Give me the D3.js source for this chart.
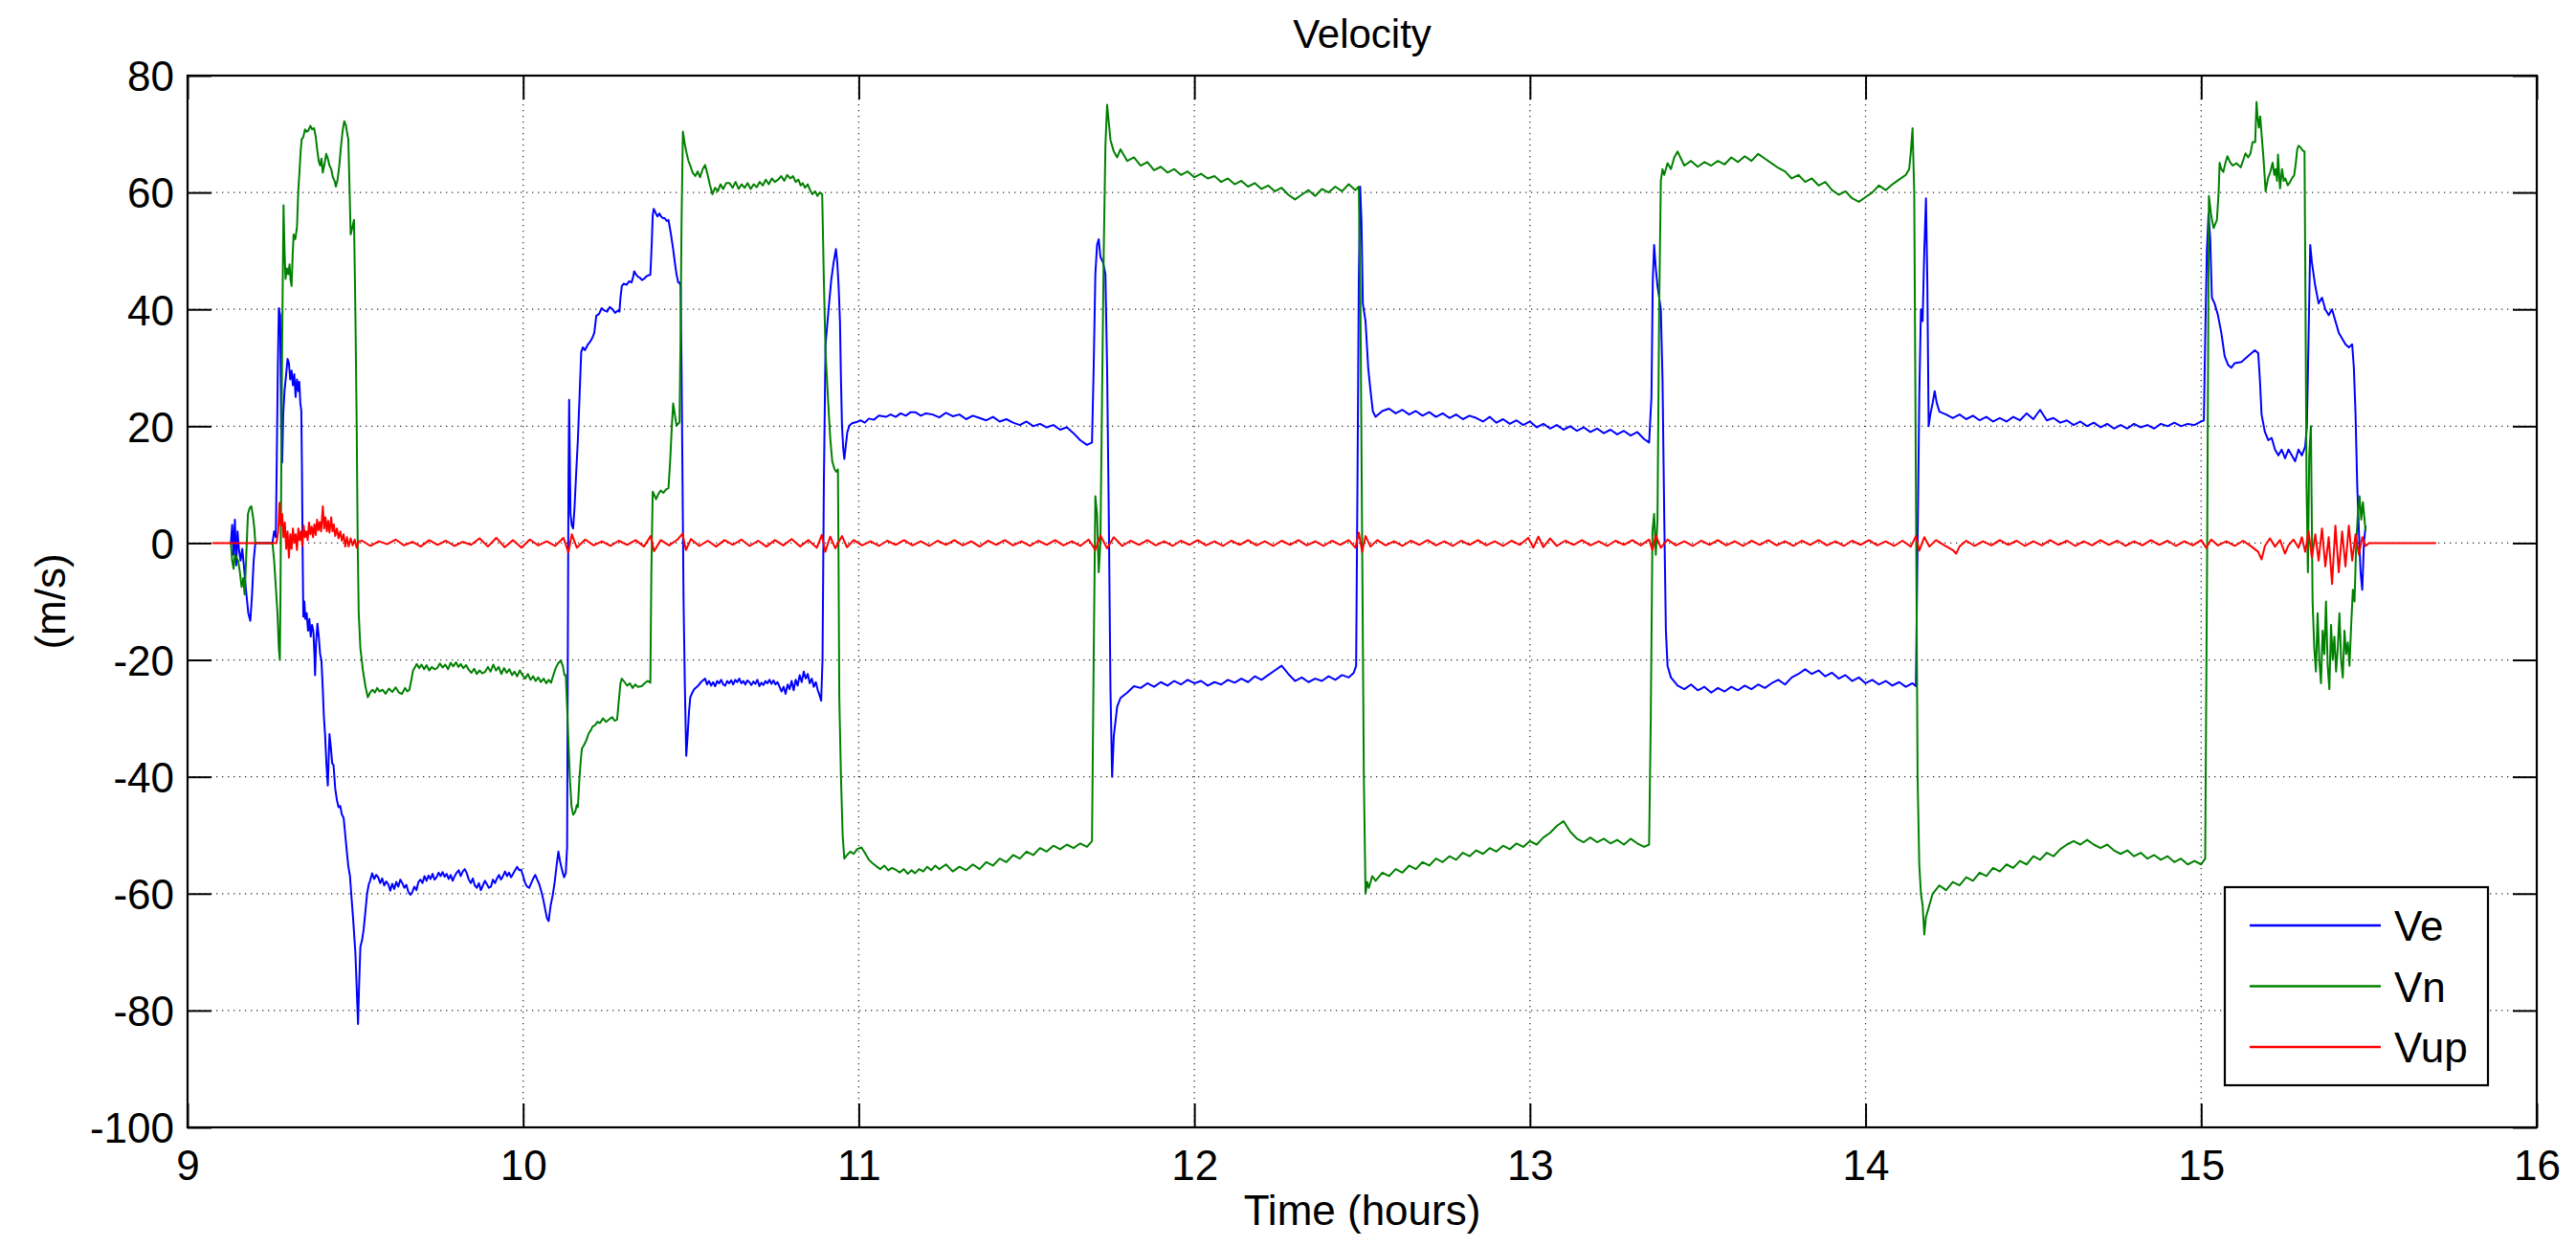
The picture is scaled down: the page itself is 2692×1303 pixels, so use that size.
<!DOCTYPE html>
<html><head><meta charset="utf-8">
<script src="https://cdn.jsdelivr.net/npm/d3@7"></script>
<style>body{margin:0;background:#fff}text{font-family:"Liberation Sans",Arial,Helvetica,sans-serif;fill:#000}</style>
</head><body><svg id="c" width="2692" height="1303"></svg>
<script>
const titleText = "Velocity";
const xLabel = "Time (hours)";
const yLabel = "(m/s)";
const xTicks = [9,10,11,12,13,14,15,16];
const yTicks = [-100,-80,-60,-40,-20,0,20,40,60,80];
const seriesNames = ["Ve","Vn","Vup"];
const seriesColors = ["#0000ff","#008000","#ff0000"];

const veData = [[9.129,0],[9.133,3.1],[9.137,-2],[9.141,4],[9.145,-3.8],[9.149,2],[9.153,-1],[9.158,-3],[9.163,-1],[9.168,-4],[9.174,-8],[9.181,-12],[9.187,-13.3],[9.192,-9],[9.197,-3],[9.202,0],
[9.253,0],[9.258,2],[9.263,1],[9.266,15],[9.269,30],[9.272,40.2],[9.276,39],[9.279,20],[9.282,13.8],[9.285,22],[9.289,26],[9.294,29],[9.298,31.5],[9.302,30.8],[9.306,28],[9.310,29.5],[9.314,27],[9.318,28.9],[9.322,25],[9.326,28],[9.330,26],[9.333,27.6],[9.336,24],[9.339,22.6],[9.341,12],[9.343,-2],[9.345,-12.6],[9.348,-10],[9.351,-13],[9.355,-12],[9.359,-15],[9.363,-13],[9.367,-16],[9.371,-14],[9.375,-15.1],[9.378,-19],[9.380,-22.6],[9.383,-17],[9.387,-13.8],[9.391,-16],[9.395,-19],[9.399,-20.1],[9.403,-25],[9.406,-29.5],[9.410,-33],[9.414,-38],[9.418,-41.5],[9.421,-36],[9.423,-32.7],[9.427,-35],[9.431,-37.7],[9.435,-38],[9.440,-42],[9.445,-44],[9.450,-45.2],[9.455,-45],[9.460,-46.5],[9.465,-47],[9.470,-50],[9.475,-53],[9.479,-55.3],[9.484,-57],[9.489,-61],[9.493,-64],[9.496,-66.6],[9.500,-70],[9.504,-76],[9.508,-82.3],[9.511,-76],[9.515,-69.1],[9.520,-68],[9.525,-66],[9.530,-63],[9.535,-60],[9.540,-58.4],[9.544,-57.8],[9.550,-56.5],[9.556,-57.5],[9.562,-56.8],[9.568,-57.2],[9.574,-58.2],[9.580,-57.4],[9.586,-58.6],[9.592,-57.9],[9.598,-58.4],[9.604,-59.5],[9.610,-58.3],[9.616,-59.2],[9.622,-58],[9.628,-58.8],[9.634,-57.6],[9.640,-58.2],[9.646,-59],[9.652,-58.5],[9.658,-59.7],[9.664,-60.2],[9.670,-59.7],[9.676,-58.8],[9.682,-59.4],[9.688,-58],[9.694,-57.6],[9.700,-58.2],[9.706,-57],[9.712,-57.8],[9.718,-56.9],[9.724,-57.5],[9.730,-56.6],[9.736,-57.6],[9.742,-57.2],[9.748,-56.4],[9.754,-57],[9.760,-56.3],[9.766,-57.1],[9.772,-56.6],[9.778,-57.5],[9.784,-56.8],[9.790,-57.8],[9.796,-57],[9.802,-56.4],[9.808,-56],[9.814,-57],[9.820,-56.2],[9.826,-55.8],[9.832,-56.5],[9.838,-57.6],[9.844,-58.2],[9.850,-57.4],[9.856,-58.6],[9.862,-59],[9.868,-58.2],[9.874,-59.4],[9.880,-58.6],[9.886,-57.8],[9.892,-58.4],[9.898,-59],[9.904,-58.8],[9.910,-57.6],[9.916,-58.2],[9.922,-57.4],[9.928,-56.8],[9.934,-57.6],[9.940,-57],[9.946,-56.2],[9.952,-57],[9.958,-56.4],[9.964,-57.2],[9.970,-56.6],[9.976,-56],[9.982,-55.4],[9.988,-56],[9.994,-55.9],[10.000,-57],[10.006,-58.2],[10.012,-58.8],[10.018,-59],[10.024,-58.2],[10.030,-57.4],[10.036,-56.8],[10.042,-57.6],[10.048,-58.4],[10.054,-59.6],[10.060,-61],[10.066,-62.8],[10.071,-64.2],[10.076,-64.7],[10.082,-62],[10.088,-60.3],[10.094,-58],[10.100,-55],[10.105,-52.8],[10.110,-54.5],[10.116,-56],[10.122,-57.2],[10.127,-56.5],[10.131,-52],[10.133,-20],[10.135,10],[10.137,24.5],[10.139,15],[10.141,5],[10.145,3],[10.149,2.5],[10.153,6],[10.158,12],[10.163,17.6],[10.168,25],[10.173,32.7],[10.178,33.5],[10.184,33],[10.192,33.9],[10.200,34.5],[10.207,35.2],[10.212,36],[10.218,38.9],[10.226,39.2],[10.234,40.2],[10.242,39.8],[10.250,39.6],[10.258,40.4],[10.266,40],[10.274,39.4],[10.282,39.8],[10.287,39.6],[10.290,42],[10.294,44],[10.300,44.4],[10.308,44.2],[10.316,44.8],[10.323,44.6],[10.328,45.6],[10.331,46.5],[10.336,46],[10.342,45.6],[10.348,45.4],[10.354,45],[10.360,45.2],[10.366,45.6],[10.372,45.8],[10.379,45.9],[10.383,51],[10.386,56],[10.389,57.2],[10.394,56.6],[10.400,55.9],[10.406,56.4],[10.411,55.9],[10.417,55.6],[10.422,55.6],[10.428,55.1],[10.433,55.3],[10.440,53],[10.447,50.3],[10.452,48],[10.457,46],[10.462,44.6],[10.466,44.6],[10.469,44],[10.472,30],[10.475,10],[10.478,-10],[10.482,-25],[10.486,-36.4],[10.490,-33],[10.494,-29],[10.498,-26.4],[10.504,-25.6],[10.510,-25],[10.520,-24.5],[10.530,-23.8],[10.542,-23.2],
[10.548,-24.2],[10.554,-23.6],[10.560,-24.4],[10.566,-23.8],[10.572,-24.5],[10.578,-23.6],[10.584,-24],[10.590,-23.4],[10.596,-24.2],[10.602,-24.4],[10.608,-23.6],[10.614,-24],[10.620,-23.5],[10.626,-24.2],[10.632,-23.4],[10.638,-23.8],[10.644,-23.2],[10.650,-24],[10.656,-23.6],[10.662,-24.2],[10.668,-23.5],[10.674,-23.8],[10.680,-24.3],[10.686,-23.7],[10.692,-24.1],[10.698,-23.4],[10.704,-24.5],[10.710,-23.9],[10.716,-24.3],[10.722,-23.6],[10.728,-24],[10.734,-23.4],[10.740,-24.1],[10.746,-23.5],[10.752,-24.2],[10.758,-23.8],[10.764,-24.6],[10.770,-25.4],[10.776,-24.6],[10.782,-25.8],[10.788,-24.2],[10.794,-25],[10.800,-23.6],[10.806,-25.2],[10.812,-23.4],[10.818,-24.4],[10.824,-22.6],[10.830,-23.8],[10.836,-22],[10.842,-23.2],[10.848,-22.4],[10.854,-24],[10.860,-23.2],[10.866,-24.6],[10.872,-23.8],[10.878,-25.2],[10.883,-26],[10.888,-27],[10.892,-20],[10.896,10],[10.901,33.9],[10.910,40],[10.918,45],[10.925,48],[10.932,50.3],[10.936,48],[10.940,44],[10.944,38],[10.947,28],[10.950,20.1],[10.954,16],[10.957,14.4],[10.962,17],[10.966,19],[10.972,20.1],[10.980,20.5],[10.993,20.7],[11.005,21],[11.018,20.6],[11.030,21.3],[11.045,21.1],[11.060,21.8],[11.081,21.6],[11.095,22],[11.110,21.6],[11.125,22.2],[11.140,21.8],[11.155,22.4],[11.168,22.4],[11.185,21.8],[11.200,22.2],
[11.22,22],[11.24,21.5],[11.26,22.3],[11.28,21.7],[11.30,22],[11.32,21.2],[11.34,21.8],[11.36,21.4],[11.38,21],[11.40,21.6],[11.42,20.8],[11.44,21.2],[11.46,20.6],[11.48,20.2],[11.50,20.8],[11.52,20],[11.54,20.4],[11.56,19.8],[11.58,20.2],[11.60,19.4],[11.62,19.8],[11.64,18.8],[11.66,17.6],[11.68,16.8],[11.695,17.2],[11.70,30],[11.705,46],[11.71,51],[11.715,52],[11.72,49],[11.728,48],[11.735,46],[11.74,30],[11.745,5],[11.75,-25],[11.755,-40],[11.76,-33],[11.77,-28],[11.78,-26.5],[11.80,-25.6],[11.82,-24.5],
[11.84,-24.8],[11.86,-24],[11.88,-24.6],[11.90,-23.8],[11.92,-24.4],[11.94,-23.6],[11.96,-24.2],[11.98,-23.4],[12.00,-24],[12.02,-23.6],[12.04,-24.4],[12.06,-23.8],[12.08,-24.2],[12.10,-23.4],[12.12,-23.9],[12.14,-23.2],[12.16,-23.8],[12.18,-22.8],[12.20,-23.4],[12.22,-22.6],[12.24,-21.8],[12.26,-21],[12.28,-22.4],[12.30,-23.6],[12.32,-23],[12.34,-23.8],[12.36,-23.2],[12.38,-23.6],[12.40,-22.8],[12.42,-23.4],[12.44,-22.6],[12.46,-23],[12.475,-22.2],[12.482,-21],[12.486,10],[12.49,45],[12.494,61],[12.498,55],[12.502,41],[12.51,38],[12.518,30],[12.525,26],[12.532,22.5],[12.54,21.6],[12.56,22.6],[12.58,23],[12.60,22.2],
[12.62,22.8],[12.64,22],[12.66,22.6],[12.68,21.8],[12.70,22.4],[12.72,21.6],[12.74,22.2],[12.76,21.4],[12.78,22],[12.80,21.2],[12.82,21.8],[12.84,21.4],[12.86,20.8],[12.88,21.6],[12.90,20.6],[12.92,21.2],[12.94,20.4],[12.96,21],[12.98,20.2],[13.00,20.8],[13.02,19.8],[13.04,20.4],[13.06,19.6],[13.08,20.2],[13.10,19.4],[13.12,20],[13.14,19.2],[13.16,19.8],[13.18,19],[13.20,19.6],[13.22,18.8],[13.24,19.4],[13.26,18.6],[13.28,19.2],[13.30,18.4],[13.32,19],[13.34,17.8],[13.355,17.2],[13.362,25],[13.366,45],[13.37,51],[13.375,47],[13.38,44],[13.39,40],[13.395,28],[13.40,5],[13.405,-15],[13.41,-21],[13.42,-23],[13.44,-24.4],
[13.46,-25],[13.48,-24.2],[13.50,-25.2],[13.52,-24.6],[13.54,-25.6],[13.56,-24.8],[13.58,-25.4],[13.60,-24.6],[13.62,-25.2],[13.64,-24.4],[13.66,-25],[13.68,-24.2],[13.70,-24.8],[13.72,-24],[13.74,-23.4],[13.76,-24.2],[13.78,-23],[13.80,-22.4],[13.82,-21.6],[13.84,-22.4],[13.86,-21.8],[13.88,-22.8],[13.90,-22.2],[13.92,-23.2],[13.94,-22.6],[13.96,-23.6],[13.98,-23],[14.00,-24],[14.02,-23.4],[14.04,-24.2],[14.06,-23.6],[14.08,-24.4],[14.10,-23.8],[14.12,-24.6],[14.14,-24],[14.15,-24.5],[14.155,0],[14.16,25],[14.165,40],[14.17,38],[14.175,50],[14.18,59],[14.184,45],[14.188,20],[14.193,22],[14.2,24],[14.206,26],[14.212,24],[14.22,22.5],[14.24,22],
[14.26,21.4],[14.28,22],[14.30,21.2],[14.32,21.8],[14.34,21],[14.36,21.6],[14.38,20.8],[14.40,21.4],[14.42,20.8],[14.44,21.6],[14.46,21],[14.48,22.2],[14.50,21.2],[14.52,22.8],[14.54,21],[14.56,21.4],[14.58,20.6],[14.60,21],[14.62,20.2],[14.64,20.8],[14.66,20],[14.68,20.6],[14.70,19.8],[14.72,20.4],[14.74,19.6],[14.76,20.2],[14.78,19.6],[14.80,20.4],[14.82,19.8],[14.84,20.2],[14.86,19.6],[14.88,20.4],[14.90,20],[14.92,20.6],[14.94,20],[14.96,20.4],[14.98,20.2],[15.00,20.8],[15.008,21],[15.012,35],[15.017,50],[15.022,56.4],[15.027,52],[15.032,42],[15.04,41],[15.05,39],[15.06,36],[15.07,32],[15.08,30.5],[15.09,30],[15.10,30.8],[15.12,31],[15.14,32],[15.16,33],[15.17,32.5],[15.175,28],[15.18,22],[15.19,19],[15.20,17.6],[15.21,18],[15.22,16],[15.23,15],[15.24,16],[15.25,14.5],[15.26,16],[15.27,15],[15.28,14],[15.29,16],[15.30,15],[15.31,16.5],[15.315,20],[15.32,35],[15.325,51],[15.33,48],[15.34,44],[15.35,41],[15.36,42],[15.37,40],[15.38,39],[15.39,40],[15.40,38],[15.41,36],[15.42,35],[15.43,34],[15.44,33.5],[15.45,34],[15.455,30],[15.46,22],[15.465,10],[15.47,2],[15.475,-5],[15.48,-8],[15.485,0],[15.49,3]];

const vnData = [[9.129,0],[9.133,-3],[9.137,-4.4],[9.141,-2],[9.146,-2.5],[9.151,-3.1],[9.156,-5],[9.161,-7.5],[9.166,-6],[9.170,-8.8],[9.173,-5],[9.176,-0.6],[9.180,5],[9.185,6],[9.190,6.3],[9.195,4.5],[9.199,2.5],[9.202,0],
[9.253,0],[9.258,-3],[9.263,-7.5],[9.268,-12],[9.272,-18],[9.275,-20],[9.277,-8],[9.279,10],[9.282,35],[9.286,57.8],[9.289,50],[9.292,45.2],[9.296,47],[9.300,46],[9.304,47.7],[9.307,45],[9.310,44],[9.313,49],[9.316,52.8],[9.321,52],[9.326,54],[9.330,60.3],[9.334,64],[9.337,67],[9.340,69.1],[9.345,69.5],[9.350,70.8],[9.355,70.4],[9.360,70.6],[9.366,71.4],[9.371,70.8],[9.377,71],[9.382,69.5],[9.386,67.5],[9.391,65.3],[9.395,64.6],[9.399,65.8],[9.403,63.4],[9.408,64.8],[9.413,66.6],[9.418,65.8],[9.423,64.6],[9.428,64],[9.433,62.6],[9.438,62],[9.442,61],[9.447,62.2],[9.452,64.5],[9.457,67.8],[9.462,70.5],[9.467,72.2],[9.472,71.5],[9.476,70],[9.479,69.1],[9.483,60],[9.486,52.8],[9.491,54],[9.496,55.3],[9.500,40],[9.504,20.1],[9.507,0],[9.510,-12],[9.515,-18],[9.523,-22],[9.530,-24.5],[9.537,-26.4],[9.544,-25.6],[9.551,-25.1],[9.558,-25.6],[9.565,-24.8],[9.572,-25.4],[9.581,-25.1],[9.590,-25.8],[9.600,-24.9],[9.610,-25.5],[9.620,-24.7],[9.630,-25.6],[9.639,-25.8],[9.648,-24.8],[9.655,-25.4],[9.661,-25.1],[9.667,-23.4],[9.672,-21.8],[9.678,-21.2],[9.683,-20.7],[9.690,-21.4],[9.697,-20.8],[9.705,-21.6],[9.712,-20.9],[9.720,-21.8],[9.728,-21.2],[9.736,-21.6],[9.744,-21.4],[9.752,-20.6],[9.760,-21.3],[9.768,-20.8],[9.776,-21.6],[9.784,-20.5],[9.792,-21.1],[9.800,-20.4],[9.807,-21.2],[9.814,-20.7],[9.822,-21.4],[9.830,-20.9],[9.838,-21.7],[9.846,-22.2],[9.854,-21.5],[9.862,-22.4],[9.870,-21.8],[9.878,-22.3],[9.887,-22],[9.895,-21.2],[9.903,-22],[9.911,-20.8],[9.919,-21.8],[9.927,-21.2],[9.935,-22.4],[9.943,-21.4],[9.951,-22.2],[9.959,-21.6],[9.967,-22.6],[9.974,-22],[9.982,-22.8],[9.990,-21.8],[9.998,-22.6],[10.006,-23.2],[10.014,-22.4],[10.022,-23.4],[10.030,-22.8],[10.037,-23.6],[10.045,-23],[10.053,-23.8],[10.061,-23.2],[10.069,-24],[10.076,-23.4],[10.083,-23.9],[10.090,-22.6],[10.097,-21.4],[10.104,-20.6],[10.112,-20.1],[10.118,-21],[10.123,-22.6],[10.127,-22.6],[10.131,-28],[10.134,-32.7],[10.139,-40],[10.144,-45],[10.149,-46.5],[10.155,-46],[10.160,-44.8],[10.163,-45.2],[10.168,-40],[10.172,-37],[10.175,-35.2],[10.181,-34.6],[10.188,-33.8],[10.195,-32.6],[10.202,-32],[10.207,-31.4],[10.214,-31.2],[10.221,-30.6],[10.229,-30.8],[10.238,-30],[10.247,-30.6],[10.256,-30.2],[10.265,-29.8],[10.273,-30.4],[10.280,-30.2],[10.285,-27],[10.290,-24],[10.294,-23.2],[10.302,-23.8],[10.310,-24.4],[10.318,-24],[10.326,-24.8],[10.334,-24.2],[10.342,-24.6],[10.353,-24.5],[10.362,-24],[10.371,-23.6],[10.379,-23.9],[10.382,-5],[10.386,8.8],[10.391,8.2],[10.396,7.5],[10.403,8.4],[10.410,9],[10.418,8.6],[10.426,9.2],[10.433,9.4],[10.438,14],[10.443,20],[10.447,23.9],[10.452,22],[10.457,20.1],[10.462,20.4],[10.466,20.7],[10.469,35],[10.472,55],[10.476,70.4],[10.481,68.5],[10.486,67],[10.492,65.5],[10.498,64.6],[10.505,63.4],[10.513,62.8],[10.520,63.6],[10.527,62.6],[10.535,64],[10.542,64.7],[10.549,63.2],[10.556,61.4],[10.564,59.7],[10.572,60.8],[10.580,60.2],[10.588,61.4],[10.596,60.6],[10.605,61.6],[10.615,61.6],[10.624,60.8],[10.633,61.8],[10.642,60.6],[10.651,61.4],[10.660,60.8],[10.669,61.6],[10.678,60.6],[10.687,61.4],[10.696,60.9],[10.705,61.8],[10.714,61.2],[10.723,62.2],[10.732,61.4],[10.741,62.4],[10.750,61.8],[10.760,62.2],[10.769,62.8],[10.778,62],[10.787,63],[10.796,62.4],[10.804,62.8],[10.812,61.8],[10.820,62.2],[10.827,61.2],[10.833,61.6],[10.840,60.8],[10.848,61.4],[10.855,60.4],[10.862,59.7],[10.870,60.2],[10.877,59.4],[10.884,60],[10.891,59.7],[10.896,45],[10.901,32.7],[10.908,25],[10.915,18],[10.921,14],[10.928,12.6],[10.933,12.2],[10.938,12.6],[10.940,-5],[10.942,-26.4],[10.947,-40],[10.952,-50],[10.957,-54],[10.965,-53.4],[10.975,-52.8],[10.985,-53.2],[10.995,-52.4],[11.008,-52.1],[11.018,-53],[11.030,-54.2],[11.041,-54.8],[11.052,-55.3],[11.064,-55.8],[11.076,-55.2],[11.088,-56],[11.099,-55.6],[11.110,-55.9],[11.122,-56.4],[11.134,-55.8],[11.146,-56.6],[11.157,-56],[11.168,-56.5],[11.180,-55.8],[11.192,-56.2],[11.204,-55.4],[11.216,-56],[11.228,-55.2],[11.240,-55.8],
[11.26,-55],[11.28,-56.2],[11.30,-55.4],[11.32,-56],[11.34,-55],[11.36,-55.8],[11.38,-54.6],[11.40,-55.2],[11.42,-54],[11.44,-54.6],[11.46,-53.4],[11.48,-54],[11.50,-52.8],[11.52,-53.4],[11.54,-52.2],[11.56,-52.8],[11.58,-51.8],[11.60,-52.4],[11.62,-51.6],[11.64,-52.2],[11.66,-51.4],[11.68,-52],[11.695,-51],[11.70,-20],[11.705,8],[11.71,5],[11.715,-5],[11.72,0],[11.725,25],[11.73,50],[11.735,68],[11.74,75],[11.745,72],[11.75,69],[11.76,67],[11.77,66],[11.78,67.4],[11.80,65.4],[11.82,66],[11.84,64.6],[11.86,65.2],[11.88,63.8],[11.90,64.4],[11.92,63.4],[11.94,64],[11.96,63],[11.98,63.6],[12.00,62.6],[12.02,63.2],[12.04,62.4],[12.06,62.8],[12.08,61.8],[12.10,62.4],[12.12,61.4],[12.14,62],[12.16,61],[12.18,61.6],[12.20,60.6],[12.22,61.2],[12.24,60.2],[12.26,60.8],[12.28,59.6],[12.30,58.8],[12.32,59.6],[12.34,60.4],[12.36,59.4],[12.38,60.6],[12.40,60],[12.42,61],[12.44,60.2],[12.46,61.4],[12.48,60.4],[12.49,61],[12.495,40],[12.50,0],[12.505,-40],[12.51,-60],[12.515,-58],[12.52,-59],[12.53,-57],[12.54,-57.8],[12.56,-56.4],[12.58,-57],[12.60,-55.8],[12.62,-56.4],[12.64,-55.2],[12.66,-55.8],[12.68,-54.6],[12.70,-55.2],[12.72,-54],[12.74,-54.6],[12.76,-53.6],[12.78,-54.2],[12.80,-53],[12.82,-53.6],[12.84,-52.6],[12.86,-53.2],[12.88,-52.2],[12.90,-52.8],[12.92,-51.8],[12.94,-52.4],[12.96,-51.4],[12.98,-52],[13.00,-51],[13.02,-51.6],[13.04,-50.4],[13.06,-49.6],[13.08,-48.4],[13.10,-47.6],[13.12,-49.4],[13.14,-50.6],[13.16,-51.2],[13.18,-50.4],[13.20,-51.2],[13.22,-50.6],[13.24,-51.4],[13.26,-50.8],[13.28,-51.6],[13.30,-50.6],[13.32,-51.4],[13.34,-52],[13.355,-51.6],[13.36,-30],[13.365,2],[13.37,5],[13.375,-2],[13.38,4],[13.385,40],[13.39,62],[13.395,64],[13.40,63],[13.41,65],[13.42,64],[13.43,66],[13.44,67],[13.45,65.8],[13.46,64.6],[13.48,65.4],[13.50,64.4],[13.52,65.2],[13.54,64.6],[13.56,65.4],[13.58,64.8],[13.60,66],[13.62,65.2],[13.64,66.2],[13.66,65.4],[13.68,66.6],[13.70,65.8],[13.72,65],[13.74,64.2],[13.76,63.6],[13.78,62.4],[13.80,63],[13.82,61.8],[13.84,62.4],[13.86,61.2],[13.88,61.8],[13.90,60.4],[13.92,59.6],[13.94,60.2],[13.96,59],[13.98,58.4],[14.00,59.2],[14.02,60],[14.04,61.2],[14.06,60.4],[14.08,61.4],[14.10,62.2],[14.12,63],[14.13,64],[14.135,67],[14.14,71],[14.145,60],[14.15,10],[14.155,-40],[14.16,-55],[14.165,-60],[14.17,-62],[14.175,-67],[14.18,-64],[14.19,-62],[14.20,-60],[14.22,-58.6],[14.24,-59.4],[14.26,-58],[14.28,-58.6],[14.30,-57.2],[14.32,-57.8],[14.34,-56.4],[14.36,-57],[14.38,-55.6],[14.40,-56.2],[14.42,-55],[14.44,-55.6],[14.46,-54.4],[14.48,-55],[14.50,-53.6],[14.52,-54.2],[14.54,-53],[14.56,-53.6],[14.58,-52.4],[14.60,-51.6],[14.62,-51],[14.64,-51.6],[14.66,-50.8],[14.68,-51.6],[14.70,-52.2],[14.72,-51.6],[14.74,-52.6],[14.76,-53.2],[14.78,-52.6],[14.80,-53.6],[14.82,-53],[14.84,-54],[14.86,-53.4],[14.88,-54.2],[14.90,-53.6],[14.92,-54.6],[14.94,-54],[14.96,-55],[14.98,-54.4],[15.00,-55],[15.012,-54],[15.018,0],[15.023,59.4],[15.03,56],[15.037,53.9],[15.047,55.3],[15.052,60],[15.055,65.1],[15.06,64],[15.066,63.5],[15.072,65],[15.078,66.2],[15.086,65.2],[15.094,64.6],[15.105,65],[15.118,64.3],[15.125,65.5],[15.132,66.7],[15.14,66],[15.147,66.7],[15.153,68.6],[15.161,68.6],[15.165,75.5],[15.168,73],[15.172,71.1],[15.176,73],[15.180,70],[15.186,65.6],[15.192,60.2],[15.199,62.4],[15.206,63.5],[15.213,65.1],[15.218,63],[15.222,64],[15.226,62],[15.229,66.5],[15.235,60.7],[15.241,64],[15.246,62],[15.251,62.4],[15.258,61.2],[15.265,61.8],[15.271,62.5],[15.277,62.9],[15.282,65],[15.286,67.3],[15.29,68],[15.295,67.8],[15.302,67.2],[15.308,67],[15.311,40],[15.314,10],[15.318,-5],[15.322,15],[15.327,20],[15.332,-10],[15.337,-18],[15.342,-22],[15.347,-12],[15.352,-20],[15.357,-24],[15.362,-15],[15.367,-19],[15.372,-10],[15.377,-21],[15.382,-25],[15.387,-14],[15.392,-20],[15.397,-16],[15.402,-22],[15.407,-18],[15.412,-12],[15.417,-20],[15.422,-23],[15.427,-15],[15.432,-19],[15.437,-17],[15.442,-21],[15.447,-14],[15.452,-8],[15.457,-10],[15.462,0],[15.467,5],[15.472,8],[15.477,4],[15.482,7],[15.49,2]];

const vupData = [[9.074,0],[9.265,0],[9.27,2],[9.274,6.9],[9.278,3],[9.282,5],[9.286,1],[9.29,3.5],[9.294,-1],[9.298,2],[9.302,-2.5],[9.306,1.5],[9.31,-1],[9.314,2.5],[9.318,0],[9.322,1.5],[9.326,-1.2],[9.33,2.5],[9.334,0.5],[9.338,2],[9.342,-0.5],[9.346,3],[9.35,1],[9.354,2],[9.358,0.5],[9.362,3.5],[9.366,1.5],[9.37,2.8],[9.374,1],[9.378,3.2],[9.382,1.4],[9.386,4],[9.39,2.2],[9.394,3.6],[9.398,2],[9.403,6.3],[9.407,2.5],[9.411,4.4],[9.415,2],[9.419,3.8],[9.423,1.8],[9.428,4.4],[9.432,2],[9.436,3.2],[9.44,1.2],[9.445,2.5],[9.45,0.8],[9.455,2],[9.46,0.4],[9.465,1.5],[9.47,-0.6],[9.475,1],[9.48,-0.6],[9.486,0.8],[9.492,-0.4],[9.498,0.6],[9.504,-0.8],[9.51,0.3],
[9.52,0.4],[9.545,-0.5],[9.57,0.3],[9.595,-0.2],[9.62,0.6],[9.645,-0.4],[9.67,0.2],[9.695,-0.6],[9.72,0.5],[9.745,-0.3],[9.77,0.4],[9.795,-0.5],[9.82,0.2],[9.845,-0.3],[9.87,0.8],[9.895,-0.6],[9.92,0.9],[9.945,-0.7],[9.97,0.5],[9.995,-0.8],[10.02,0.6],[10.045,-0.4],[10.07,0.3],[10.095,-0.5],[10.12,0.9],[10.135,-1.6],[10.145,1.5],[10.16,-0.8],[10.185,0.6],[10.21,-0.4],[10.235,0.3],[10.26,-0.5],[10.285,0.4],[10.31,-0.3],[10.335,0.5],[10.36,-0.6],[10.38,1.2],[10.39,-1.4],[10.41,0.5],[10.435,-0.4],[10.46,0.6],[10.475,1.6],[10.485,-1.2],[10.50,0.7],[10.525,-0.5],[10.55,0.4],[10.575,-0.6],[10.60,0.5],[10.625,-0.3],[10.65,0.6],[10.675,-0.5],[10.70,0.4],[10.725,-0.6],[10.75,0.5],[10.775,-0.4],[10.80,0.7],[10.825,-0.6],[10.85,0.5],[10.875,-0.8],[10.89,1.4],[10.90,-1.5],[10.915,1.1],[10.93,-0.9],[10.95,1.2],[10.965,-0.7],[10.985,0.5],[11.01,-0.4],[11.035,0.3],[11.06,-0.5],[11.085,0.4],[11.11,-0.3],[11.135,0.5],[11.16,-0.4],[11.185,0.3],[11.21,-0.5],[11.235,0.4],[11.26,-0.3],[11.285,0.5],[11.31,-0.4],[11.335,0.3],[11.36,-0.6],[11.385,0.4],[11.41,-0.3],[11.435,0.5],[11.46,-0.4],[11.485,0.3],[11.51,-0.5],[11.535,0.4],[11.56,-0.3],[11.585,0.5],[11.61,-0.4],[11.635,0.3],[11.66,-0.5],[11.685,0.6],[11.705,-1.2],[11.72,1.3],[11.74,-0.9],[11.76,1],[11.785,-0.5],[11.81,0.4],[11.835,-0.3],[11.86,0.5],[11.885,-0.4],[11.91,0.3],[11.935,-0.5],[11.96,0.4],[11.985,-0.3],[12.01,0.5],[12.035,-0.4],[12.06,0.3],[12.085,-0.5],[12.11,0.4],[12.135,-0.3],[12.16,0.5],[12.185,-0.4],[12.21,0.3],[12.235,-0.5],[12.26,0.4],[12.285,-0.3],[12.31,0.5],[12.335,-0.4],[12.36,0.3],[12.385,-0.5],[12.41,0.4],[12.435,-0.3],[12.46,0.5],[12.48,-0.8],[12.49,1.8],[12.50,-1.5],[12.51,1.2],[12.525,-0.6],[12.545,0.5],[12.57,-0.4],[12.595,0.3],[12.62,-0.5],[12.645,0.4],[12.67,-0.3],[12.695,0.5],[12.72,-0.4],[12.745,0.3],[12.77,-0.5],[12.795,0.4],[12.82,-0.3],[12.845,0.5],[12.87,-0.4],[12.895,0.3],[12.92,-0.5],[12.945,0.4],[12.97,-0.3],[12.995,0.9],[13.01,-0.8],[13.025,1.1],[13.04,-0.7],[13.06,0.8],[13.08,-0.5],[13.105,0.4],[13.13,-0.3],[13.155,0.5],[13.18,-0.4],[13.205,0.3],[13.23,-0.5],[13.255,0.4],[13.28,-0.3],[13.305,0.5],[13.33,-0.4],[13.355,0.6],[13.365,-1.2],[13.375,1.3],[13.39,-0.8],[13.41,0.6],[13.435,-0.4],[13.46,0.3],[13.485,-0.5],[13.51,0.4],[13.535,-0.3],[13.56,0.5],[13.585,-0.4],[13.61,0.3],[13.635,-0.5],[13.66,0.4],[13.685,-0.3],[13.71,0.5],[13.735,-0.4],[13.76,0.3],[13.785,-0.5],[13.81,0.4],[13.835,-0.3],[13.86,0.5],[13.885,-0.4],[13.91,0.3],[13.935,-0.5],[13.96,0.4],[13.985,-0.3],[14.01,0.5],[14.035,-0.4],[14.06,0.3],[14.085,-0.5],[14.11,0.4],[14.135,-0.6],[14.15,1.2],[14.16,-1.3],[14.175,1],[14.19,-0.6],[14.21,0.5],[14.235,-0.4],[14.26,-1.2],[14.27,-1.8],[14.28,-0.6],[14.30,0.4],[14.325,-0.5],[14.35,0.3],[14.375,-0.4],[14.40,0.5],[14.425,-0.3],[14.45,0.4],[14.475,-0.5],[14.50,0.3],[14.525,-0.4],[14.55,0.5],[14.575,-0.3],[14.60,0.4],[14.625,-0.5],[14.65,0.3],[14.675,-0.4],[14.70,0.5],[14.725,-0.3],[14.75,0.4],[14.775,-0.5],[14.80,0.3],[14.825,-0.4],[14.85,0.5],[14.875,-0.3],[14.90,0.4],[14.925,-0.5],[14.95,0.3],[14.975,-0.4],[15.00,0.5],[15.015,-0.8],[15.03,0.6],[15.05,-0.4],[15.075,0.3],[15.10,-0.5],[15.125,0.4],[15.15,-0.6],[15.17,-1.5],[15.18,-2.8],[15.19,-0.5],[15.205,0.8],[15.22,-0.6],[15.235,0.5],[15.25,-1.8],[15.26,-0.4],[15.275,0.6],[15.29,-0.8],[15.30,1],[15.31,-1.5],[15.32,2],[15.33,-2.5],[15.34,1.5],[15.35,-3],[15.36,2.5],[15.37,-4],[15.38,1],[15.39,-7],[15.40,3],[15.41,-5],[15.42,2],[15.43,-4],[15.44,3],[15.45,-3],[15.46,1.5],[15.47,-2],[15.48,1],[15.49,-0.5],[15.50,0],[15.70,0]];

const allSeries = [veData, vnData, vupData];

const W = 2692, H = 1303;
const m = {l:196, r:41, t:79, b:125};
const svg = d3.select("#c");
const x = d3.scaleLinear().domain([9,16]).range([m.l, W - m.r]);
const y = d3.scaleLinear().domain([-100,80]).range([H - m.b, m.t]);

svg.append("rect").attr("width",W).attr("height",H).attr("fill","#fff");

// grid
const grid = svg.append("g").attr("stroke","#333").attr("stroke-width",1.3).attr("stroke-dasharray","1.3,4.7");
grid.selectAll(".gx").data(xTicks.slice(1,-1)).join("line")
  .attr("x1",d=>x(d)).attr("x2",d=>x(d)).attr("y1",m.t).attr("y2",H-m.b);
grid.selectAll(".gy").data(yTicks.slice(1,-1)).join("line")
  .attr("x1",m.l).attr("x2",W-m.r).attr("y1",d=>y(d)).attr("y2",d=>y(d));

// data
svg.append("clipPath").attr("id","clip").append("rect")
  .attr("x",m.l).attr("y",m.t).attr("width",W-m.l-m.r).attr("height",H-m.t-m.b);
const line = d3.line().x(d=>x(d[0])).y(d=>y(d[1]));
const plot = svg.append("g").attr("clip-path","url(#clip)");
allSeries.forEach((s,i)=>{
  plot.append("path").datum(s).attr("d",line).attr("fill","none")
    .attr("stroke",seriesColors[i]).attr("stroke-width",2).attr("stroke-linejoin","round");
});

// axes
const TL = 25;
const fs = 44;
const fmt = d => String(d);
const ax = (g)=>{g.select(".domain").remove(); g.selectAll(".tick line").attr("stroke","#000").attr("stroke-width",2);};
svg.append("g").attr("transform",`translate(0,${H-m.b})`)
  .call(d3.axisBottom(x).tickValues(xTicks).tickSize(-TL).tickFormat(fmt))
  .call(ax)
  .call(g=>g.selectAll("text").attr("y",55).attr("dy",null).attr("font-size",fs).attr("fill","#000"));
svg.append("g").attr("transform",`translate(0,${m.t})`)
  .call(d3.axisTop(x).tickValues(xTicks).tickSize(-TL).tickFormat(""))
  .call(ax);
svg.append("g").attr("transform",`translate(${m.l},0)`)
  .call(d3.axisLeft(y).tickValues(yTicks).tickSize(-TL).tickPadding(14).tickFormat(fmt))
  .call(ax)
  .call(g=>g.selectAll("text").attr("dy","0.36em").attr("font-size",fs).attr("fill","#000"));
svg.append("g").attr("transform",`translate(${W-m.r},0)`)
  .call(d3.axisRight(y).tickValues(yTicks).tickSize(-TL).tickFormat(""))
  .call(ax);
svg.selectAll("g").attr("font-family",null);

// box
svg.append("rect").attr("x",m.l).attr("y",m.t).attr("width",W-m.l-m.r).attr("height",H-m.t-m.b)
  .attr("fill","none").attr("stroke","#000").attr("stroke-width",2.2);

// labels
svg.append("text").attr("x",(m.l+W-m.r)/2).attr("y",50).attr("text-anchor","middle").attr("font-size",42).text(titleText);
svg.append("text").attr("x",(m.l+W-m.r)/2).attr("y",1280).attr("text-anchor","middle").attr("font-size",fs).text(xLabel);
svg.append("text").attr("transform",`translate(68,${(m.t+H-m.b)/2}) rotate(-90)`).attr("text-anchor","middle").attr("font-size",fs).text(yLabel);

// legend
const lg = svg.append("g");
lg.append("rect").attr("x",2325).attr("y",927).attr("width",275).attr("height",207)
  .attr("fill","#fff").attr("stroke","#000").attr("stroke-width",2.2);
seriesNames.forEach((n,i)=>{
  const ly = 967 + i*63.5;
  lg.append("line").attr("x1",2351).attr("x2",2488).attr("y1",ly).attr("y2",ly)
    .attr("stroke",seriesColors[i]).attr("stroke-width",2.5);
  lg.append("text").attr("x",2502).attr("y",ly+16).attr("font-size",fs).text(n);
});
</script></body></html>
